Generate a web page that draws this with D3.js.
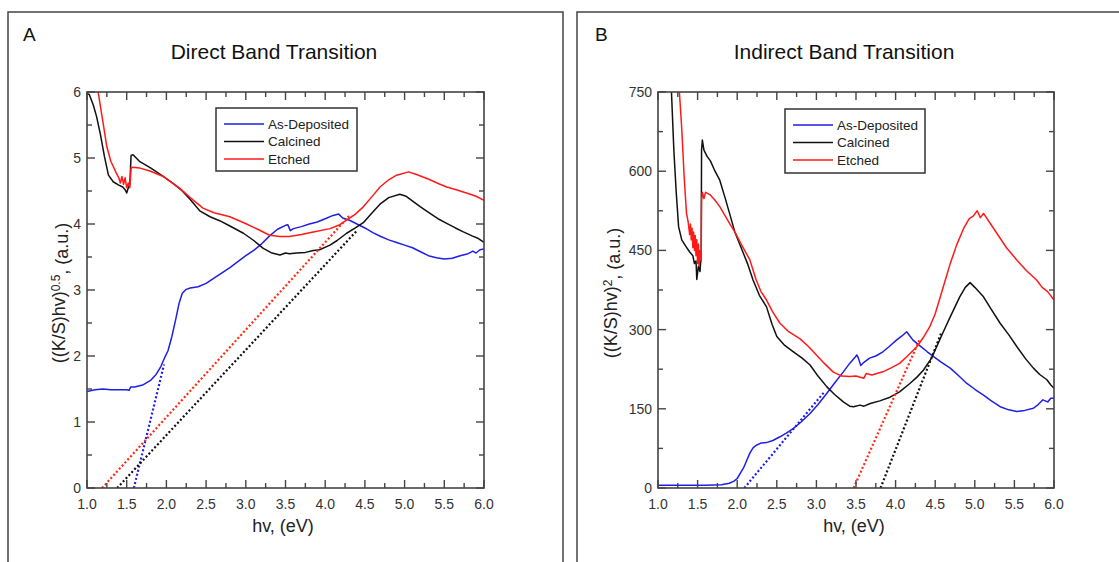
<!DOCTYPE html>
<html>
<head>
<meta charset="utf-8">
<script src="https://cdn.jsdelivr.net/npm/d3@7"></script>
<style>
  body { margin: 0; background: #fff; }
  svg { display: block; font-family: "Liberation Sans", Arial, Helvetica, sans-serif; }
  .frame { fill: none; stroke: #444; stroke-width: 1.5; }
  .axis-line { fill: none; stroke: #444; stroke-width: 1.6; }
  .tick { stroke: #444; stroke-width: 1.4; }
  .tick-label { fill: #333; font-size: 14px; }
  .axis-title { fill: #222; font-size: 18px; }
  .curve { fill: none; stroke-width: 1.5; stroke-linejoin: round; }
  .fit { fill: none; stroke-width: 2.2; stroke-dasharray: 2,2.2; }
</style>
</head>
<body>
<div class="chart"></div>
<script>
// DATA //
var seriesNames = ['As-Deposited', 'Calcined', 'Etched'];
var seriesColors = ['#1f1fe6', '#111111', '#ff1a1a'];
var xTicks = [1.0, 1.5, 2.0, 2.5, 3.0, 3.5, 4.0, 4.5, 5.0, 5.5, 6.0];
var directTicks = [0, 1, 2, 3, 4, 5, 6];
var indirectTicks = [0, 150, 300, 450, 600, 750];

// direct band: ((K/S)hv)^0.5
var directAsDeposited = [[1.0,1.46],[1.1,1.49],[1.2,1.5],[1.3,1.49],[1.4,1.49],[1.5,1.49],[1.53,1.48],[1.55,1.53],[1.6,1.53],[1.7,1.56],[1.8,1.63],[1.87,1.72],[1.93,1.84],[1.98,1.98],[2.02,2.08],[2.07,2.3],[2.12,2.57],[2.16,2.8],[2.2,2.95],[2.25,3.01],[2.3,3.03],[2.4,3.05],[2.5,3.1],[2.6,3.18],[2.7,3.26],[2.8,3.34],[2.9,3.43],[3.0,3.52],[3.1,3.6],[3.2,3.7],[3.3,3.82],[3.4,3.92],[3.5,3.98],[3.53,3.99],[3.56,3.9],[3.6,3.93],[3.7,3.96],[3.8,4.0],[3.9,4.03],[4.0,4.08],[4.1,4.13],[4.17,4.15],[4.22,4.09],[4.3,4.06],[4.4,4.0],[4.5,3.94],[4.6,3.87],[4.7,3.81],[4.8,3.76],[4.9,3.72],[5.0,3.68],[5.1,3.64],[5.2,3.58],[5.3,3.52],[5.4,3.49],[5.5,3.47],[5.6,3.48],[5.7,3.52],[5.8,3.55],[5.86,3.59],[5.9,3.56],[5.95,3.61],[6.0,3.62]];
var directCalcined = [[1.0,5.98],[1.03,5.96],[1.08,5.8],[1.12,5.63],[1.17,5.35],[1.22,5.02],[1.27,4.74],[1.33,4.64],[1.4,4.59],[1.45,4.56],[1.48,4.52],[1.5,4.47],[1.52,4.55],[1.54,4.6],[1.555,5.04],[1.58,5.05],[1.66,4.95],[1.8,4.85],[1.96,4.72],[2.1,4.6],[2.2,4.5],[2.3,4.37],[2.42,4.2],[2.55,4.11],[2.67,4.05],[2.8,3.97],[2.97,3.86],[3.1,3.75],[3.22,3.63],[3.33,3.56],[3.43,3.53],[3.5,3.56],[3.55,3.55],[3.64,3.56],[3.75,3.57],[3.85,3.6],[3.93,3.61],[4.06,3.68],[4.15,3.75],[4.27,3.86],[4.38,3.94],[4.48,4.02],[4.6,4.18],[4.69,4.3],[4.8,4.4],[4.94,4.45],[5.02,4.42],[5.11,4.34],[5.2,4.26],[5.32,4.16],[5.42,4.08],[5.53,4.01],[5.64,3.94],[5.74,3.88],[5.85,3.82],[5.93,3.78],[6.0,3.72]];
var directEtched = [[1.1,6.4],[1.14,6.0],[1.2,5.55],[1.25,5.17],[1.3,4.95],[1.37,4.77],[1.4,4.7],[1.42,4.62],[1.44,4.72],[1.46,4.6],[1.48,4.7],[1.5,4.55],[1.52,4.62],[1.54,4.55],[1.555,4.85],[1.58,4.86],[1.66,4.85],[1.8,4.8],[1.96,4.72],[2.1,4.6],[2.17,4.54],[2.3,4.4],[2.46,4.24],[2.6,4.17],[2.8,4.11],[3.01,4.0],[3.15,3.92],[3.3,3.83],[3.43,3.81],[3.55,3.81],[3.7,3.84],[3.85,3.88],[4.06,3.93],[4.17,3.98],[4.27,4.06],[4.38,4.15],[4.48,4.26],[4.6,4.43],[4.69,4.56],[4.8,4.67],[4.9,4.74],[5.05,4.79],[5.15,4.75],[5.32,4.67],[5.43,4.61],[5.53,4.56],[5.65,4.52],[5.78,4.47],[5.9,4.42],[6.0,4.36]];
var directFitAsDeposited = [[1.59,0],[1.97,1.87]];
var directFitCalcined = [[1.38,0],[4.4,3.9]];
var directFitEtched = [[1.19,0],[4.3,4.12]];

// indirect band: ((K/S)hv)^2
var indirectAsDeposited = [[1.0,5],[1.3,5],[1.6,5],[1.8,6],[1.9,9],[1.96,13],[2.0,18],[2.04,28],[2.08,38],[2.12,52],[2.16,66],[2.2,76],[2.24,81],[2.3,85],[2.37,86],[2.45,90],[2.54,97],[2.62,104],[2.71,113],[2.8,124],[2.92,141],[3.02,158],[3.13,179],[3.23,199],[3.34,220],[3.42,236],[3.48,246],[3.51,252],[3.53,246],[3.56,232],[3.6,238],[3.67,246],[3.75,250],[3.84,258],[3.92,268],[4.01,280],[4.08,288],[4.14,296],[4.18,288],[4.22,280],[4.3,270],[4.4,258],[4.48,249],[4.58,238],[4.69,227],[4.8,212],[4.9,198],[5.0,187],[5.11,176],[5.2,166],[5.32,154],[5.43,148],[5.53,145],[5.63,147],[5.74,151],[5.8,158],[5.86,167],[5.92,163],[5.96,170],[6.0,170]];
var indirectCalcined = [[1.14,800],[1.17,750],[1.2,640],[1.23,560],[1.26,495],[1.3,470],[1.35,458],[1.4,447],[1.44,440],[1.46,425],[1.48,430],[1.49,395],[1.51,420],[1.53,410],[1.545,440],[1.55,640],[1.56,659],[1.58,640],[1.62,628],[1.66,620],[1.72,600],[1.78,583],[1.85,548],[1.9,522],[1.97,485],[2.05,455],[2.13,425],[2.2,394],[2.28,365],[2.37,343],[2.44,310],[2.5,287],[2.6,270],[2.71,258],[2.82,246],[2.92,233],[3.02,212],[3.13,192],[3.23,177],[3.34,163],[3.42,155],[3.47,154],[3.55,157],[3.6,155],[3.68,160],[3.8,165],[3.93,172],[4.05,182],[4.18,198],[4.27,210],[4.35,223],[4.45,245],[4.52,268],[4.6,295],[4.69,324],[4.81,362],[4.88,380],[4.94,389],[5.0,380],[5.11,362],[5.2,340],[5.32,312],[5.43,290],[5.53,268],[5.64,245],[5.74,227],[5.82,215],[5.91,205],[5.96,195],[6.0,189]];
var indirectEtched = [[1.24,800],[1.27,750],[1.3,680],[1.33,590],[1.36,520],[1.38,505],[1.4,480],[1.41,500],[1.42,470],[1.43,492],[1.44,455],[1.45,485],[1.46,450],[1.47,478],[1.48,440],[1.49,470],[1.5,425],[1.51,462],[1.52,420],[1.53,450],[1.545,430],[1.55,545],[1.56,560],[1.58,548],[1.6,560],[1.66,555],[1.72,545],[1.78,533],[1.85,515],[1.92,497],[1.97,485],[2.05,462],[2.16,432],[2.24,394],[2.3,372],[2.37,356],[2.45,333],[2.54,312],[2.65,296],[2.79,283],[2.9,268],[3.0,252],[3.1,236],[3.21,220],[3.32,212],[3.42,211],[3.5,212],[3.6,208],[3.63,217],[3.7,214],[3.84,220],[3.95,228],[4.05,236],[4.15,250],[4.27,268],[4.35,285],[4.43,305],[4.5,330],[4.56,360],[4.62,390],[4.69,425],[4.77,460],[4.86,492],[4.93,510],[4.98,515],[5.03,525],[5.07,512],[5.11,520],[5.2,500],[5.28,482],[5.4,455],[5.53,432],[5.65,412],[5.78,394],[5.85,380],[5.92,372],[6.0,356]];
var indirectFitAsDeposited = [[2.09,0],[3.1,182]];
var indirectFitCalcined = [[3.81,0],[4.58,295]];
var indirectFitEtched = [[3.47,0],[4.3,280]];

// CHART //
var W = 1119, H = 562;
var svg = d3.select('.chart').append('svg')
    .attr('width', W)
    .attr('height', H);

// panel frames (bottom edge runs off the picture)
svg.append('rect').attr('class', 'frame')
    .attr('x', 8).attr('y', 12).attr('width', 555).attr('height', 600);
svg.append('rect').attr('class', 'frame')
    .attr('x', 577).attr('y', 12).attr('width', 600).attr('height', 600);

function drawPanel(cfg) {
    var x = d3.scaleLinear().domain([1, 6]).range([cfg.left, cfg.right]);
    var y = d3.scaleLinear().domain([0, cfg.yMax]).range([cfg.bottom, cfg.top]);
    var g = svg.append('g');

    // panel letter and title
    g.append('text').attr('x', cfg.letterX).attr('y', 41)
        .style('font-size', '19px').style('fill', '#111').text(cfg.letter);
    g.append('text').attr('x', cfg.titleX).attr('y', 59)
        .attr('text-anchor', 'middle')
        .style('font-size', '21px').style('fill', '#111').text(cfg.title);

    // clip to plot area
    g.append('clipPath').attr('id', cfg.id)
        .append('rect')
        .attr('x', cfg.left).attr('y', cfg.top)
        .attr('width', cfg.right - cfg.left).attr('height', cfg.bottom - cfg.top);

    var line = d3.line()
        .x(function(d) { return x(d[0]); })
        .y(function(d) { return y(d[1]); });

    var plot = g.append('g').attr('clip-path', 'url(#' + cfg.id + ')');

    cfg.curves.forEach(function(c, i) {
        plot.append('path').attr('class', 'curve')
            .attr('stroke', seriesColors[i])
            .attr('d', line(c));
    });
    cfg.fits.forEach(function(c, i) {
        plot.append('path').attr('class', 'fit')
            .attr('stroke', i == 2 ? '#ff2a10' : seriesColors[i])
            .attr('d', line(c));
    });

    // ticks (inward on all four sides)
    var xMinor = d3.range(1, 6.001, 0.25);
    xMinor.forEach(function(v) {
        var major = Math.abs(v * 2 - Math.round(v * 2)) < 1e-6;
        var len = major ? 8 : 5;
        g.append('line').attr('class', 'tick')
            .attr('x1', x(v)).attr('x2', x(v))
            .attr('y1', cfg.bottom).attr('y2', cfg.bottom - len);
        g.append('line').attr('class', 'tick')
            .attr('x1', x(v)).attr('x2', x(v))
            .attr('y1', cfg.top).attr('y2', cfg.top + len);
    });
    var yStep = cfg.yTicks[1] - cfg.yTicks[0];
    d3.range(0, cfg.yMax + 1e-6, yStep / 2).forEach(function(v, i) {
        var len = i % 2 == 0 ? 8 : 5;
        g.append('line').attr('class', 'tick')
            .attr('x1', cfg.left).attr('x2', cfg.left + len)
            .attr('y1', y(v)).attr('y2', y(v));
        g.append('line').attr('class', 'tick')
            .attr('x1', cfg.right).attr('x2', cfg.right - len)
            .attr('y1', y(v)).attr('y2', y(v));
    });

    g.append('rect').attr('class', 'axis-line')
        .attr('x', cfg.left).attr('y', cfg.top)
        .attr('width', cfg.right - cfg.left).attr('height', cfg.bottom - cfg.top);

    // tick labels
    g.selectAll('.xl').data(xTicks).enter().append('text')
        .attr('class', 'tick-label')
        .attr('x', function(d) { return x(d); })
        .attr('y', cfg.bottom + 21)
        .attr('text-anchor', 'middle')
        .text(d3.format('.1f'));
    g.selectAll('.yl').data(cfg.yTicks).enter().append('text')
        .attr('class', 'tick-label')
        .attr('x', cfg.left - 6)
        .attr('y', function(d) { return y(d) + 5; })
        .attr('text-anchor', 'end')
        .text(function(d) { return d; });

    // axis titles
    g.append('text').attr('class', 'axis-title')
        .attr('x', cfg.xLabelX).attr('y', 532)
        .attr('text-anchor', 'middle')
        .text('hv, (eV)');
    var yl = g.append('text').attr('class', 'axis-title')
        .attr('transform', 'translate(' + cfg.yLabelX + ',293) rotate(-90)')
        .attr('text-anchor', 'middle');
    yl.append('tspan').text('((K/S)hv)');
    yl.append('tspan').attr('dy', '-0.45em').style('font-size', '12px').text(cfg.power);
    yl.append('tspan').attr('dy', '0.45em').text(', (a.u.)');

    // legend
    var lg = g.append('g');
    lg.append('rect')
        .attr('x', cfg.legend[0]).attr('y', cfg.legend[1])
        .attr('width', cfg.legend[2]).attr('height', cfg.legend[3])
        .style('fill', '#fff').style('stroke', '#333').style('stroke-width', 1.5);
    seriesNames.forEach(function(name, i) {
        var ry = cfg.legend[1] + 16 + i * 17.5;
        lg.append('line')
            .attr('x1', cfg.legend[0] + 8).attr('x2', cfg.legend[0] + 48)
            .attr('y1', ry).attr('y2', ry)
            .style('stroke', seriesColors[i]).style('stroke-width', 1.6);
        lg.append('text')
            .attr('x', cfg.legend[0] + 52).attr('y', ry + 4.5)
            .style('font-size', '13.5px').style('fill', '#222')
            .text(name);
    });
}

drawPanel({
    id: 'clipA', letter: 'A', letterX: 23, title: 'Direct Band Transition', titleX: 274,
    left: 87, right: 484, top: 92, bottom: 488,
    yMax: 6, yTicks: directTicks, power: '0.5',
    xLabelX: 283, yLabelX: 65,
    legend: [216, 108, 141, 63],
    curves: [directAsDeposited, directCalcined, directEtched],
    fits: [directFitAsDeposited, directFitCalcined, directFitEtched]
});

drawPanel({
    id: 'clipB', letter: 'B', letterX: 595, title: 'Indirect Band Transition', titleX: 844,
    left: 658, right: 1054, top: 92, bottom: 488,
    yMax: 750, yTicks: indirectTicks, power: '2',
    xLabelX: 854, yLabelX: 617,
    legend: [785, 109, 140, 64],
    curves: [indirectAsDeposited, indirectCalcined, indirectEtched],
    fits: [indirectFitAsDeposited, indirectFitCalcined, indirectFitEtched]
});
</script>
</body>
</html>
